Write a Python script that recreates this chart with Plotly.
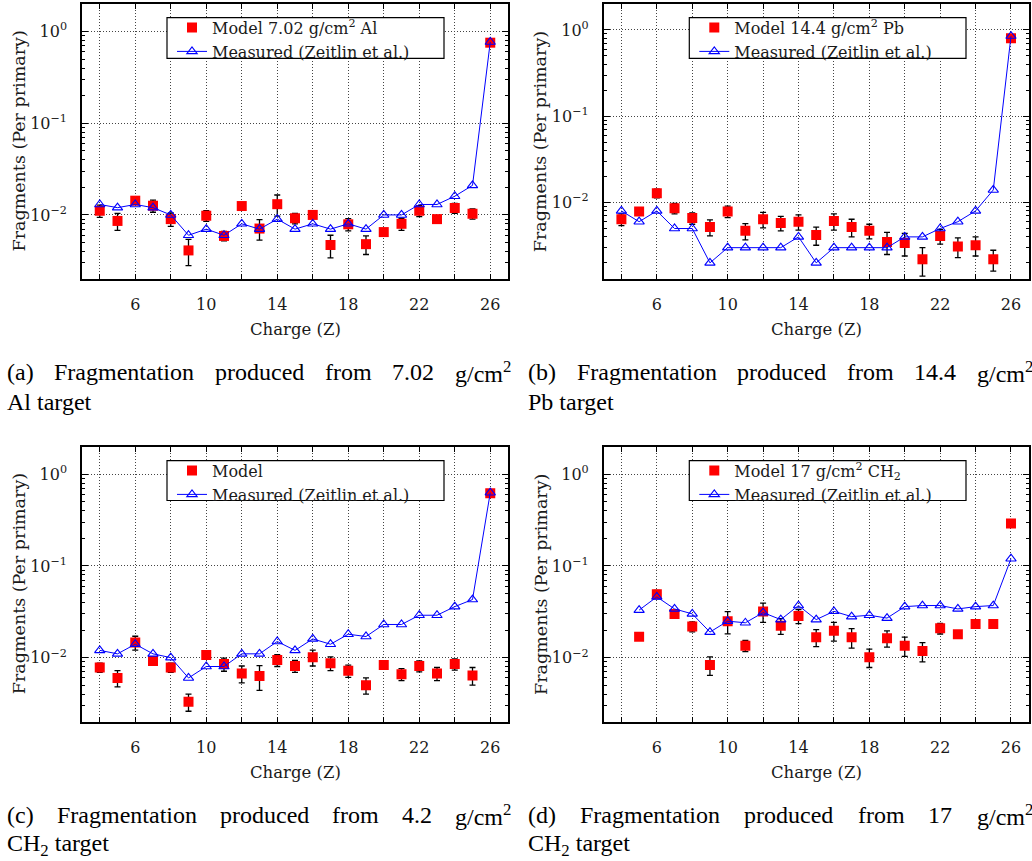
import math
import plotly.graph_objects as go

W, H = 1032, 861

# ---------------- data ----------------
charge = list(range(4, 27))
charge_d = list(range(5, 27))

a_model = [0.0111, 0.0086, 0.0143, 0.0126, 0.0090, 0.0041, 0.0098, 0.0059, 0.0125, 0.0071, 0.0131, 0.0092,
           0.0100, 0.0047, 0.0079, 0.0048, 0.0065, 0.0080, 0.0111, 0.0090, 0.0119, 0.0103, 0.757]
a_err = [0.0017, 0.0018, 0.0008, 0.0019, 0.0015, 0.0013, 0.0013, 0.0007, 0.0006, 0.0018, 0.0034, 0.0012,
         0.0006, 0.0013, 0.0012, 0.0011, 0.0005, 0.0012, 0.0015, 0.0005, 0.0015, 0.0013, 0.02]
a_meas = [0.013, 0.012, 0.013, 0.012, 0.010, 0.006, 0.007, 0.006, 0.008, 0.007, 0.009, 0.007,
          0.008, 0.007, 0.008, 0.007, 0.010, 0.010, 0.013, 0.013, 0.016, 0.021, 0.77]

b_model = [0.0064, 0.0079, 0.0128, 0.0086, 0.0066, 0.0052, 0.0079, 0.0047, 0.0064, 0.0058, 0.0060, 0.0042,
           0.0061, 0.0052, 0.0047, 0.0035, 0.0034, 0.0022, 0.0041, 0.0031, 0.0032, 0.0022, 0.80]
b_err = [0.0010, 0.0008, 0.0015, 0.0012, 0.0010, 0.0011, 0.0012, 0.0010, 0.0013, 0.0011, 0.0012, 0.0010,
         0.0013, 0.0012, 0.0009, 0.0010, 0.0010, 0.0008, 0.0008, 0.0008, 0.0008, 0.0006, 0.02]
b_meas = [0.008, 0.006, 0.008, 0.005, 0.005, 0.002, 0.003, 0.003, 0.003, 0.003, 0.004, 0.002,
          0.003, 0.003, 0.003, 0.003, 0.004, 0.004, 0.005, 0.006, 0.008, 0.014, 0.85]

c_model = [0.0078, 0.0060, 0.0146, 0.0092, 0.0078, 0.0033, 0.0107, 0.0085, 0.0067, 0.0063, 0.0094, 0.0081,
           0.0101, 0.0087, 0.0072, 0.0050, 0.0083, 0.0066, 0.0081, 0.0067, 0.0085, 0.0064, 0.62]
c_err = [0.0009, 0.0012, 0.0025, 0.0008, 0.0009, 0.0007, 0.0008, 0.0014, 0.0014, 0.0019, 0.0014, 0.0012,
         0.0020, 0.0015, 0.0011, 0.0010, 0.0008, 0.0010, 0.0011, 0.0011, 0.0012, 0.0014, 0.02]
c_meas = [0.012, 0.011, 0.014, 0.011, 0.010, 0.006, 0.008, 0.008, 0.011, 0.011, 0.015, 0.012,
          0.016, 0.014, 0.018, 0.017, 0.023, 0.023, 0.029, 0.029, 0.036, 0.043, 0.63]

d_model = [0.0169, 0.049, 0.030, 0.0218, 0.0083, 0.025, 0.0135, 0.0318, 0.0223, 0.0285, 0.0167,
           0.0197, 0.0167, 0.0101, 0.0163, 0.0135, 0.0118, 0.0209, 0.018, 0.0233, 0.0233, 0.29]
d_err = [0.001, 0.005, 0.002, 0.0027, 0.0019, 0.0068, 0.0019, 0.0075, 0.0044, 0.005, 0.0035,
         0.0046, 0.004, 0.0023, 0.0033, 0.0032, 0.0028, 0.0028, 0.0015, 0.002, 0.0015, 0.01]
d_meas = [0.033, 0.046, 0.034, 0.030, 0.019, 0.025, 0.024, 0.031, 0.026, 0.037, 0.026,
          0.032, 0.028, 0.029, 0.027, 0.036, 0.037, 0.037, 0.034, 0.036, 0.037, 0.12]

model_labels = ["Model 7.02 g/cm<sup>2</sup> Al", "Model 14.4 g/cm<sup>2</sup> Pb",
                "Model", "Model 17 g/cm<sup>2</sup> CH<sub>2</sub>"]
measured_label = "Measured (Zeitlin et al.)"
x_tick_vals = list(range(4, 27, 2))
x_label_vals = [6, 10, 14, 18, 22, 26]
y_major = [0.01, 0.1, 1]
y_major_text = ["10<sup>\u22122</sup>", "10<sup>\u22121</sup>", "10<sup>0</sup>"]
y_min = [0.002, 0.0013, 0.002, 0.002]
y_max = 2.0

captions = [
    (["(a)", "Fragmentation", "produced", "from", "7.02", "g/cm<sup>2</sup>"], "Al target"),
    (["(b)", "Fragmentation", "produced", "from", "14.4", "g/cm<sup>2</sup>"], "Pb target"),
    (["(c)", "Fragmentation", "produced", "from", "4.2", "g/cm<sup>2</sup>"], "CH<sub>2</sub> target"),
    (["(d)", "Fragmentation", "produced", "from", "17", "g/cm<sup>2</sup>"], "CH<sub>2</sub> target"),
]

# ---------------- layout geometry (pixels) ----------------
boxes = [(82, 508, 4, 279), (603.7, 1028.7, 4, 279), (82, 508, 446.7, 721.7), (603.7, 1028.7, 446.7, 721.7)]
leg_boxes = [(167, 444, 17.7, 58.3), (689.3, 966, 17.7, 58.3), (167, 444, 460.7, 500.5), (689.3, 966, 460.7, 500.5)]
cap_spans = [(5, 509), (526, 1031), (5, 509), (526, 1031)]


def px(x):
    return x / W


def py(y):
    return 1 - y / H


CHART_FONT = "DejaVu Serif"
CAP_FONT = "Liberation Serif"
TXT = "#1a1a1a"

models = [a_model, b_model, c_model, d_model]
errs = [a_err, b_err, c_err, d_err]
meas = [a_meas, b_meas, c_meas, d_meas]
xs = [charge, charge, charge, charge_d]

fig = go.Figure()
layout = dict(width=W, height=H, margin=dict(l=0, r=0, t=0, b=0), paper_bgcolor="white",
              plot_bgcolor="white", showlegend=True, font=dict(family=CHART_FONT, color=TXT))
annotations = []
shapes = []

# Times-like widths for caption justification
tw = {'(': .333, ')': .333, 'a': .444, 'b': .5, 'c': .444, 'd': .5, 'F': .556, 'r': .333, 'g': .5,
      'm': .778, 'e': .444, 'n': .5, 't': .278, 'i': .278, 'o': .5, 'p': .5, 'u': .5, 'f': .333,
      '/': .278, '.': .25}
CAP_SIZE = 24


def word_width(w):
    s = w.replace("<sup>2</sup>", "")
    em = sum(tw.get(ch, 0.5) for ch in s)
    if "<sup>" in w:
        em += 0.35
    return em * CAP_SIZE


for i in range(4):
    k = "" if i == 0 else str(i + 1)
    xa, ya = "x" + k, "y" + k
    leg = "legend" + k
    x0, x1, y0, y1 = boxes[i]
    ymin = y_min[i]

    fig.add_trace(go.Scatter(
        x=xs[i], y=models[i], mode="markers", name=model_labels[i], xaxis=xa, yaxis=ya, legend=leg,
        marker=dict(symbol="square", size=10, color="#ff0000", line=dict(width=0)),
        error_y=dict(type="data", array=errs[i], visible=True, color="black", thickness=1.3, width=3),
    ))
    fig.add_trace(go.Scatter(
        x=xs[i], y=meas[i], mode="lines+markers", name=measured_label, xaxis=xa, yaxis=ya, legend=leg,
        line=dict(color="#0000ff", width=1),
        marker=dict(symbol="triangle-up-open", size=9, color="#0000ff", line=dict(width=1.1)),
    ))

    minor_vals = []
    for e in range(-4, 1):
        for m in range(2, 10):
            v = m * 10 ** e
            if ymin * 1.0001 < v < y_max:
                minor_vals.append(v)

    layout["xaxis" + k] = dict(
        domain=[px(x0), px(x1)], anchor=ya, range=[3, 27],
        tickmode="array", tickvals=x_tick_vals,
        ticktext=[str(v) if v in x_label_vals else "" for v in x_tick_vals],
        ticks="inside", ticklen=5, tickwidth=1, tickcolor="black",
        showline=True, linecolor="black", linewidth=1.6, mirror="ticks",
        showgrid=True, gridcolor="#444444", griddash="1px,2px", gridwidth=1,
        zeroline=False, ticklabelstandoff=10,
        tickfont=dict(family=CHART_FONT, size=16, color=TXT),
    )
    layout["yaxis" + k] = dict(
        domain=[py(y1), py(y0)], anchor=xa, type="log",
        range=[math.log10(ymin), math.log10(y_max)],
        tickmode="array", tickvals=y_major, ticktext=y_major_text,
        ticks="inside", ticklen=6, tickwidth=1, tickcolor="black",
        minor=dict(tickmode="array", tickvals=minor_vals, ticks="inside", ticklen=3,
                   tickcolor="black", showgrid=False),
        showline=True, linecolor="black", linewidth=1.6, mirror="ticks",
        showgrid=True, gridcolor="#444444", griddash="1px,2px", gridwidth=1,
        zeroline=False, ticklabelstandoff=10,
        tickfont=dict(family=CHART_FONT, size=16, color=TXT),
    )

    # legend box and legend
    lx0, lx1, ly0, ly1 = leg_boxes[i]
    shapes.append(dict(type="rect", xref="paper", yref="paper", x0=px(lx0), x1=px(lx1),
                       y0=py(ly1), y1=py(ly0), fillcolor="white",
                       line=dict(color="black", width=1.2), layer="above"))
    layout[leg] = dict(x=px(lx0 + 5), y=py(ly0 - 7), xanchor="left", yanchor="top",
                       bgcolor="rgba(0,0,0,0)", borderwidth=0, tracegroupgap=0,
                       font=dict(family=CHART_FONT, size=16, color=TXT))

    # axis titles
    annotations.append(dict(text="Charge (Z)", xref="paper", yref="paper",
                            x=px((x0 + x1) / 2), y=py(y1 + 51), xanchor="center", yanchor="middle",
                            showarrow=False, font=dict(family=CHART_FONT, size=16.5, color=TXT)))
    annotations.append(dict(text="Fragments (Per primary)", xref="paper", yref="paper",
                            x=px(x0 - 63), y=py((y0 + y1) / 2), xanchor="center", yanchor="middle",
                            textangle=-90, showarrow=False,
                            font=dict(family=CHART_FONT, size=17.5, color=TXT)))

    # captions (justified first line)
    words, line2 = captions[i]
    c0, c1 = cap_spans[i]
    widths = [word_width(w) for w in words]
    gap = (c1 - c0 - sum(widths)) / (len(words) - 1)
    cx = c0
    cy1 = y1 + 93
    for w, wd in zip(words, widths):
        annotations.append(dict(text=w, xref="paper", yref="paper", x=px(cx), y=py(cy1),
                                xanchor="left", yanchor="middle", showarrow=False,
                                font=dict(family=CAP_FONT, size=CAP_SIZE, color="black")))
        cx += wd + gap
    annotations.append(dict(text=line2, xref="paper", yref="paper", x=px(c0), y=py(y1 + 123),
                            xanchor="left", yanchor="middle", showarrow=False,
                            font=dict(family=CAP_FONT, size=CAP_SIZE, color="black")))

layout["annotations"] = annotations
layout["shapes"] = shapes
fig.update_layout(**layout)
fig.write_html("out.html")
